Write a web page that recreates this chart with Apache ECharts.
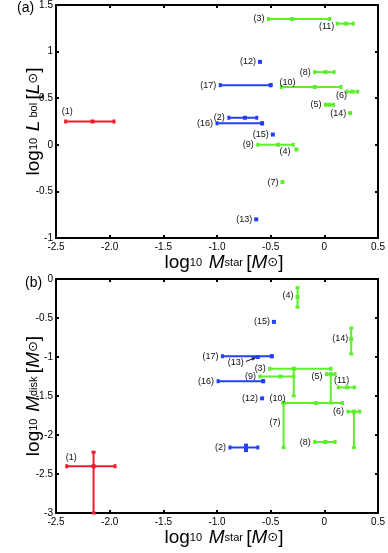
<!DOCTYPE html>
<html>
<head>
<meta charset="utf-8">
<script src="https://cdn.jsdelivr.net/npm/echarts@6/dist/echarts.min.js"></script>
<style>
    html, body { margin: 0; padding: 0; background: #fff; }
    #main { width: 388px; height: 553px; }
</style>
</head>
<body>
<div id="main"></div>
<script>
    // source labels, colour group (0 red, 1 blue, 2 green)
    var ids = ['(1)', '(2)', '(3)', '(4)', '(5)', '(6)', '(7)', '(8)', '(9)', '(10)', '(11)', '(12)', '(13)', '(14)', '(15)', '(16)', '(17)'];
    var groups = [0, 1, 2, 2, 2, 2, 2, 2, 2, 2, 2, 1, 1, 2, 1, 1, 1];

    // panel (a): log M_star vs log L_bol
    var xA    = [-2.16, -0.74, -0.30, -0.26, 0.045, 0.26, -0.39, 0.01, -0.43, -0.09, 0.20, -0.60, -0.635, 0.24, -0.48, -0.58, -0.50];
    var xLoA  = [-2.41, -0.89, -0.52, null, 0.01, 0.21, null, -0.09, -0.62, -0.40, 0.12, null, null, null, null, -1.00, -0.97];
    var xHiA  = [-1.96, -0.63, 0.05, null, 0.085, 0.31, null, 0.09, -0.29, 0.155, 0.27, null, null, null, null, -0.58, -0.50];
    var yA    = [0.25, 0.29, 1.35, -0.05, 0.43, 0.57, -0.40, 0.78, 0.00, 0.62, 1.30, 0.89, -0.80, 0.34, 0.11, 0.23, 0.64];

    // panel (b): log M_star vs log M_disk
    var xB    = [-2.15, -0.73, -0.285, -0.25, 0.06, 0.275, -0.38, 0.01, -0.41, -0.08, 0.21, -0.58, -0.62, 0.25, -0.47, -0.57, -0.49];
    var xLoB  = [-2.40, -0.88, -0.51, null, 0.02, 0.22, null, -0.09, -0.60, -0.38, 0.13, null, null, null, null, -0.99, -0.95];
    var xHiB  = [-1.95, -0.62, 0.06, null, 0.10, 0.33, null, 0.10, -0.285, 0.17, 0.28, null, null, null, null, -0.57, -0.49];
    var yB    = [-2.40, -2.16, -1.15, -0.23, -1.22, -1.70, -1.59, -2.09, -1.25, -1.59, -1.39, -1.53, -1.00, -0.77, -0.55, -1.31, -0.99];
    var yLoB  = [-3.00, -2.20, -1.50, -0.36, -1.59, -2.16, -2.16, null, null, null, null, null, null, -0.96, null, null, null];
    var yHiB  = [-2.22, -2.13, -1.15, -0.11, -1.22, -1.70, -1.59, null, null, null, null, null, null, -0.63, null, null, null];

    var xTicks = [-2.5, -2.0, -1.5, -1.0, -0.5, 0, 0.5];
    var xTickLabels = ['-2.5', '-2.0', '-1.5', '-1.0', '-0.5', '0', '0.5'];
    var yTicksA = [-1, -0.5, 0, 0.5, 1, 1.5];
    var yTickLabelsA = ['-1', '-0.5', '0', '0.5', '1', '1.5'];
    var yTicksB = [-3, -2.5, -2, -1.5, -1, -0.5, 0];
    var yTickLabelsB = ['-3', '-2.5', '-2', '-1.5', '-1', '-0.5', '0'];

    var colors = ['#ec1c2e', '#2040f8', '#5cf02a'];
    var FONT = '"Liberation Sans", Arial, sans-serif';

    // label nudges in px (default: right-aligned, just left of the left end)
    var nudgeA = {0: [7, -10], 3: [-6, 2], 5: [0, 4], 9: [14, -5], 10: [-3, 3]};
    var nudgeB = {0: [10, -9], 3: [-4, -2], 4: [-4, 2], 6: [-3, -3], 9: [2, -5], 10: [11, -7], 12: [-14, 6], 13: [-3, -2]};
    var arrowB = {12: true};

    function pick(arr, i, dflt) {
        return arr && arr[i] != null ? arr[i] : dflt;
    }

    function buildData(x, xLo, xHi, y, yLo, yHi) {
        var out = [];
        for (var i = 0; i < x.length; i++) {
            out.push([x[i], pick(xLo, i, x[i]), pick(xHi, i, x[i]), y[i], pick(yLo, i, y[i]), pick(yHi, i, y[i]), groups[i]]);
        }
        return out;
    }

    function tickFmt(ticks, labels) {
        return function (v) {
            for (var i = 0; i < ticks.length; i++) {
                if (Math.abs(ticks[i] - v) < 1e-6) return labels[i];
            }
            return '';
        };
    }

    function makeRender(nudge, arrows) {
        return function (params, api) {
            var i = params.dataIndex;
            var x = api.value(0), xlo = api.value(1), xhi = api.value(2);
            var y = api.value(3), ylo = api.value(4), yhi = api.value(5);
            var col = colors[api.value(6)];
            var st = {stroke: col, lineWidth: 2};
            var kids = [];
            var c = api.coord([x, y]);
            var anchor = c;
            if (xhi > xlo) {
                var p0 = api.coord([xlo, y]), p1 = api.coord([xhi, y]);
                kids.push({type: 'line', shape: {x1: p0[0], y1: p0[1], x2: p1[0], y2: p1[1]}, style: st});
                kids.push({type: 'rect', shape: {x: p0[0] - 1.5, y: p0[1] - 2, width: 3, height: 4}, style: {fill: col}});
                kids.push({type: 'rect', shape: {x: p1[0] - 1.5, y: p1[1] - 2, width: 3, height: 4}, style: {fill: col}});
                anchor = p0;
            }
            if (yhi > ylo) {
                var q0 = api.coord([x, ylo]), q1 = api.coord([x, yhi]);
                kids.push({type: 'line', shape: {x1: q0[0], y1: q0[1], x2: q1[0], y2: q1[1]}, style: st});
                kids.push({type: 'rect', shape: {x: q0[0] - 2, y: q0[1] - 1.5, width: 4, height: 3}, style: {fill: col}});
                kids.push({type: 'rect', shape: {x: q1[0] - 2, y: q1[1] - 1.5, width: 4, height: 3}, style: {fill: col}});
                if (!(xhi > xlo)) anchor = [q0[0], (q0[1] + q1[1]) / 2];
            }
            kids.push({type: 'rect', shape: {x: c[0] - 2, y: c[1] - 2, width: 4, height: 4}, style: {fill: col}});

            var d = nudge[i] || [-4, 0];
            var tx = anchor[0] + d[0], ty = anchor[1] + d[1];
            kids.push({
                type: 'text', x: tx, y: ty,
                style: {text: ids[i], align: 'right', verticalAlign: 'middle', fontSize: 9, fontFamily: FONT, fill: '#111'}
            });
            if (arrows && arrows[i]) {
                var ax = tx + 2, ay = ty - 1.5, bx = c[0] - 2, by = c[1] + 0.5;
                var ang = Math.atan2(by - ay, bx - ax);
                kids.push({type: 'line', shape: {x1: ax, y1: ay, x2: bx, y2: by}, style: {stroke: '#111', lineWidth: 1}});
                kids.push({
                    type: 'polygon',
                    shape: {points: [[bx, by],
                        [bx - 4 * Math.cos(ang) + 1.8 * Math.sin(ang), by - 4 * Math.sin(ang) - 1.8 * Math.cos(ang)],
                        [bx - 4 * Math.cos(ang) - 1.8 * Math.sin(ang), by - 4 * Math.sin(ang) + 1.8 * Math.cos(ang)]]},
                    style: {fill: '#111'}
                });
            }
            return {type: 'group', children: kids};
        };
    }

    var axisLine = {show: true, onZero: false, lineStyle: {color: '#000', width: 2}};
    var axisTick = {show: true, inside: true, length: 3, lineStyle: {color: '#000', width: 2}};
    var nameRich = {
        a: {fontSize: 19, fontFamily: FONT, color: '#000'},
        b: {fontSize: 11, fontFamily: FONT, color: '#000'},
        c: {fontSize: 19, fontStyle: 'italic', fontFamily: FONT, color: '#000'},
        d: {fontSize: 11, fontFamily: FONT, color: '#000'},
        e: {fontSize: 13, fontFamily: 'DejaVu Sans', color: '#000'}
    };

    function xAxis(grid, pos, show) {
        return {
            type: 'value', gridIndex: grid, position: pos, min: -2.5, max: 0.5, interval: 0.5,
            axisLine: axisLine, axisTick: axisTick, splitLine: {show: false},
            axisLabel: {show: show, margin: 4, fontSize: 10, color: '#000', fontFamily: FONT, formatter: tickFmt(xTicks, xTickLabels)},
            name: show ? '{a|log}{b|10}  {c|M}{d|star} {a|[}{c|M}{e|⊙}{a|]}' : '',
            nameLocation: 'middle', nameGap: 15, nameMoveOverlap: false,
            nameTextStyle: {color: '#000', fontFamily: FONT, padding: [0, 0, 0, 14], rich: nameRich}
        };
    }

    function yAxis(grid, pos, show, min, max, ticks, labels, name) {
        return {
            type: 'value', gridIndex: grid, position: pos, min: min, max: max, interval: 0.5,
            axisLine: axisLine, axisTick: axisTick, splitLine: {show: false},
            axisLabel: {show: show, margin: 3, fontSize: 10, color: '#000', fontFamily: FONT, formatter: tickFmt(ticks, labels)},
            name: show ? name : '',
            nameLocation: 'middle', nameGap: 13, nameMoveOverlap: false,
            nameTextStyle: {color: '#000', fontFamily: FONT, rich: nameRich}
        };
    }

    var myChart = echarts.init(document.getElementById('main'), null, {renderer: 'canvas'});
    var option = {
        backgroundColor: '#fff',
        animation: false,
        grid: [
            {left: 56, right: 6, top: 4, height: 234},
            {left: 56, right: 6, top: 279, height: 234}
        ],
        xAxis: [xAxis(0, 'bottom', true), xAxis(0, 'top', false), xAxis(1, 'bottom', true), xAxis(1, 'top', false)],
        yAxis: [
            yAxis(0, 'left', true, -1, 1.5, yTicksA, yTickLabelsA, '{a|log}{b|10}  {c|L}{d| bol} {a|[}{c|L}{e|⊙}{a|]}'),
            yAxis(0, 'right', false, -1, 1.5, yTicksA, yTickLabelsA, ''),
            yAxis(1, 'left', true, -3, 0, yTicksB, yTickLabelsB, '{a|log}{b|10}  {c|M}{d|disk} {a|[}{c|M}{e|⊙}{a|]}'),
            yAxis(1, 'right', false, -3, 0, yTicksB, yTickLabelsB, '')
        ],
        graphic: [
            {type: 'text', left: 17, top: 1, style: {text: '(a)', fontSize: 14, fontFamily: FONT, fill: '#000'}},
            {type: 'text', left: 25, top: 276, style: {text: '(b)', fontSize: 14, fontFamily: FONT, fill: '#000'}}
        ],
        series: [
            {
                type: 'custom', xAxisIndex: 0, yAxisIndex: 0, clip: false,
                encode: {x: [0, 1, 2], y: [3, 4, 5]},
                renderItem: makeRender(nudgeA, null),
                data: buildData(xA, xLoA, xHiA, yA, null, null)
            },
            {
                type: 'custom', xAxisIndex: 2, yAxisIndex: 2, clip: false,
                encode: {x: [0, 1, 2], y: [3, 4, 5]},
                renderItem: makeRender(nudgeB, arrowB),
                data: buildData(xB, xLoB, xHiB, yB, yLoB, yHiB)
            }
        ]
    };
    myChart.setOption(option);
</script>
</body>
</html>
